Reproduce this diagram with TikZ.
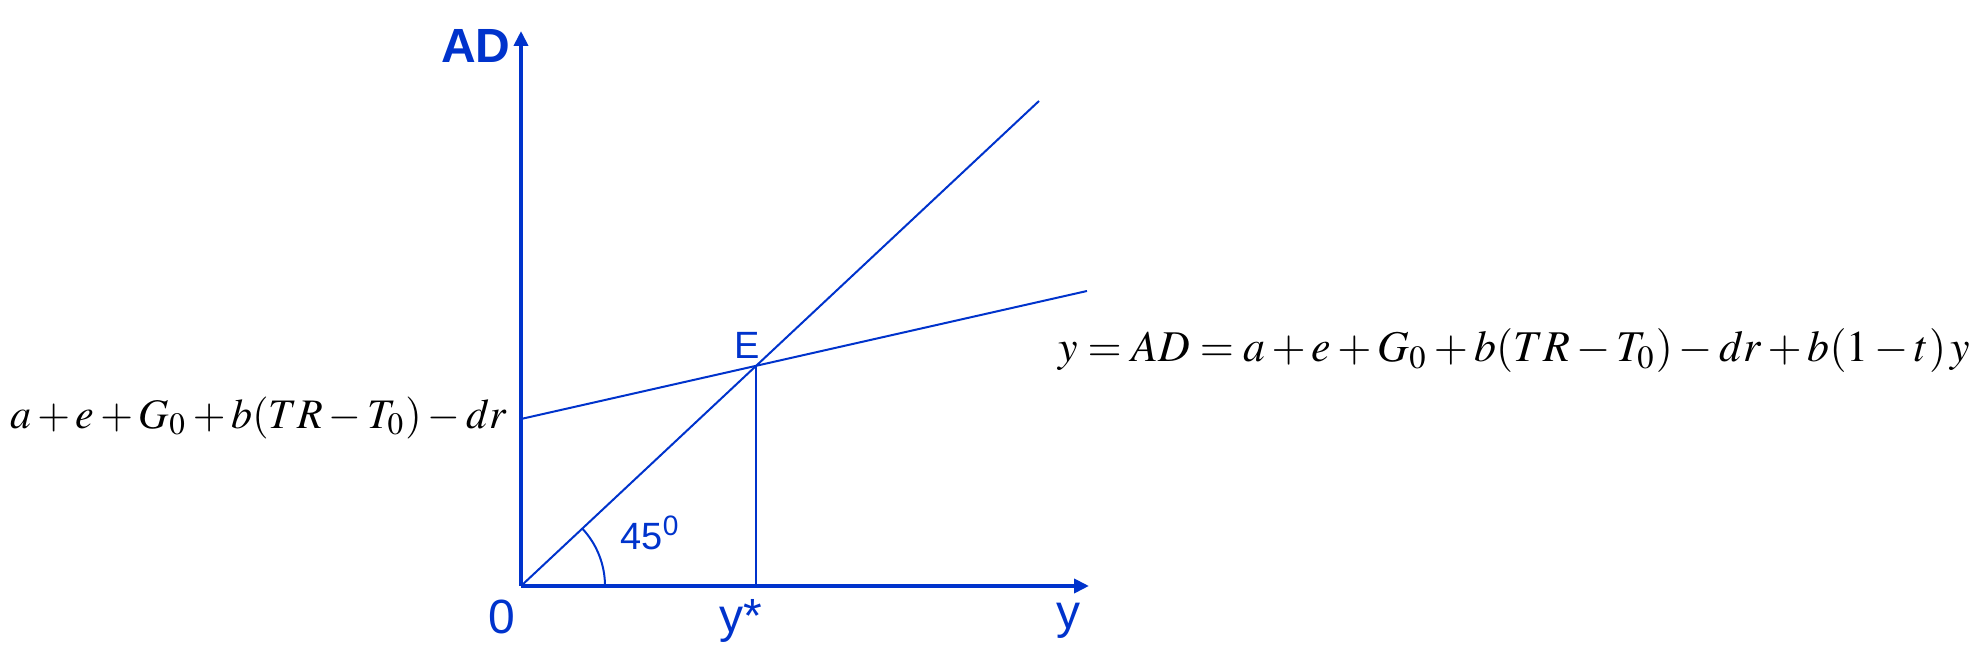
\documentclass[tikz,border=0pt]{standalone}
\usepackage{mathptmx}
\usepackage[no-math]{fontspec}
\setmainfont{Liberation Sans}
\usetikzlibrary{arrows.meta,positioning,calc}
\definecolor{AxisBlue}{HTML}{0033CC}
\tikzset{>={Triangle[length=7.5pt,width=7pt]},axis/.style={draw=AxisBlue,line width=2.3pt,->},
 curve/.style={draw=AxisBlue,line width=1pt},lab/.style={text=AxisBlue,inner sep=0pt},
 biglab/.style={lab,font=\fontsize{24}{28}\selectfont},smalllab/.style={lab,font=\fontsize{19}{22}\selectfont},
 eqlab/.style={inner sep=0pt}}
\begin{document}
\begin{tikzpicture}[x=0.5pt,y=0.5pt]
\useasboundingbox (0,0) rectangle (1986,651);
\coordinate (O) at (521,65);
\coordinate (Ytop) at (521,620);
\coordinate (Xend) at (1089,65);
\coordinate (Diag) at (1039,550);
\coordinate (Int) at (521,232);
\coordinate (Flat) at (1087,360);
\coordinate (E) at (756,286);
\coordinate (Ey) at (756,65);
% axes
\draw[axis] (O) -- (Ytop);
\draw[axis] (O) -- (Xend);
% 45 degree line and AD line
\draw[curve] (O) -- (Diag);
\draw[curve] (Int) -- (Flat);
\draw[curve] (E) -- (Ey);
\draw[curve] ($(O)+(84,0)$) arc[start angle=0,end angle=43,radius=84];
% labels
\node[biglab,font=\fontsize{24}{28}\selectfont\bfseries] (ad) at (476,605) {AD};
\node[biglab] (zero) at (502,34) {0};
\node[biglab] (ystar) at (741,30) {y*};
\node[biglab] (yax) at (1068,30) {y};
\node[smalllab] (elab) at (747,306) {E};
\node[smalllab] (ang) at (650,118) {45\textsuperscript{0}};
\node[eqlab,anchor=east] (icpt) at (507,233)
 {\resizebox{248pt}{!}{$a+e+G_{0}+b(TR-T_{0})-dr$}};
\node[eqlab,anchor=west] (adeq) at (1058,300)
 {\resizebox{456pt}{!}{$y = AD = a+e+G_{0}+b(TR-T_{0})-dr+b(1-t)\,y$}};
\end{tikzpicture}
\end{document}
